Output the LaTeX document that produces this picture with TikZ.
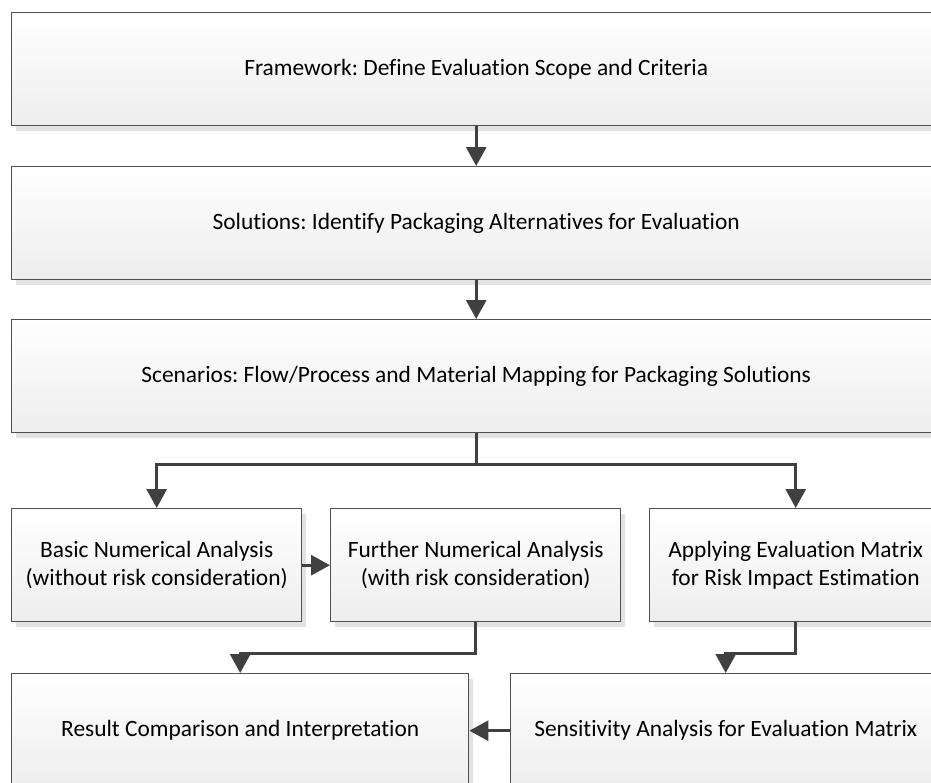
\documentclass[tikz,border=0pt]{standalone}
\usepackage{fontspec}
\setmainfont{Carlito}[Ligatures={NoCommon}]
\frenchspacing
\usetikzlibrary{arrows.meta,shadows,calc}
\definecolor{bordergray}{HTML}{505050}
\definecolor{arrowgray}{HTML}{404040}
\definecolor{shadowgray}{HTML}{E2E2E2}
\tikzset{
  box/.style={draw=bordergray, line width=1.4pt, rectangle, anchor=north west,
    top color=white, bottom color=black!7, align=center,
    font=\fontsize{23.4pt}{28pt}\selectfont, text=black,
    general shadow={fill=shadowgray, shadow xshift=4pt, shadow yshift=-5pt}},
  arr/.style={draw=arrowgray, line width=3pt,
    -{Triangle[length=19pt,width=20pt]}}
}
\begin{document}
\begin{tikzpicture}[x=1pt,y=1pt]
\useasboundingbox (0,0) rectangle (931,-782);
\clip (0,0) rectangle (931,-782);
\node[box, minimum width=929pt, minimum height=113pt] (frame) at (11,-12)
  {Framework: Define Evaluation Scope and Criteria};
\node[box, minimum width=929pt, minimum height=113pt] (sol) at (11,-166)
  {Solutions: Identify Packaging Alternatives for Evaluation};
\node[box, minimum width=929pt, minimum height=113pt] (scen) at (11,-319)
  {Scenarios: Flow/Process and Material Mapping for Packaging Solutions};
\node[box, minimum width=290pt, minimum height=113pt] (basic) at (11,-508)
  {Basic Numerical Analysis\\(without risk consideration)};
\node[box, minimum width=290pt, minimum height=113pt] (further) at (330,-508)
  {Further Numerical Analysis\\(with risk consideration)};
\node[box, minimum width=292pt, minimum height=113pt] (apply) at (649,-508)
  {Applying Evaluation Matrix\\for Risk Impact Estimation};
\node[box, minimum width=457pt, minimum height=114pt] (result) at (11,-673)
  {Result Comparison and Interpretation};
\node[box, minimum width=430pt, minimum height=114pt] (sens) at (510,-673)
  {Sensitivity Analysis for Evaluation Matrix};

\draw[arr] (frame.south) -- (sol.north);
\draw[arr] (sol.south) -- (scen.north);
\coordinate (br) at ($(scen.south)+(0,-31)$);
\draw[draw=arrowgray, line width=3pt] (scen.south) -- (br);
\draw[arr] (br) -| (basic.north);
\draw[arr] (br) -| (apply.north);
\draw[arr] (basic.east) -- (further.west);
\coordinate (fb) at ($(further.south)+(0,-31)$);
\draw[arr] (further.south) -- (fb) -| (result.north);
\coordinate (ab) at ($(apply.south)+(0,-31)$);
\draw[arr] (apply.south) -- (ab) -| (sens.north);
\draw[arr] (sens.west) -- (result.east);
\end{tikzpicture}
\end{document}
